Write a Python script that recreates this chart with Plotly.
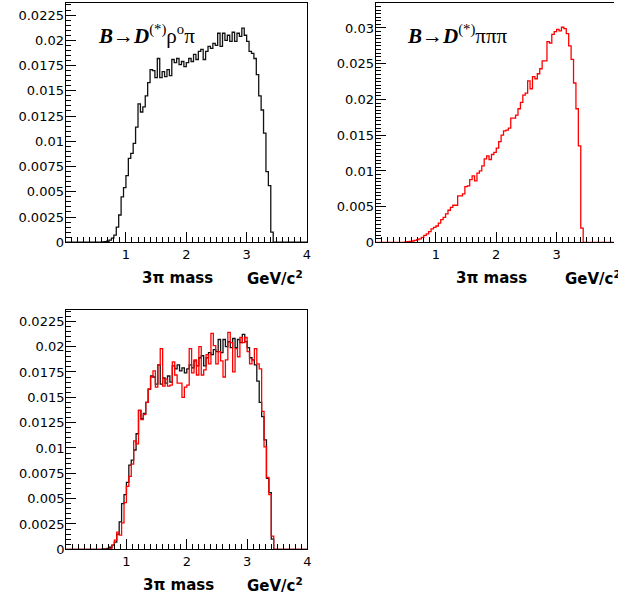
import numpy as np
import plotly.graph_objects as go

# ---------------- data ----------------
n_bins = 100
x_min, x_max = 0.0, 4.0

rho_pi = [0, 0, 0, 0, 0, 0, 0, 0, 0, 0,
          0, 0, 0, 0, 0, 0.00003, 0.00005, 0.0001, 0.0002, 0.0004,
          0.0007, 0.0015, 0.0027, 0.0045, 0.0054, 0.0066, 0.0083, 0.0088, 0.0098, 0.0114,
          0.0137, 0.0129, 0.0134, 0.0145, 0.0158, 0.0171, 0.0170, 0.0163, 0.0182, 0.0163,
          0.0169, 0.0164, 0.0171, 0.0165, 0.0181, 0.0178, 0.0182, 0.0176, 0.0179, 0.0174,
          0.0178, 0.0182, 0.0179, 0.0186, 0.0181, 0.0189, 0.0191, 0.0181, 0.0189, 0.0194,
          0.0192, 0.0197, 0.0195, 0.0207, 0.0194, 0.0207, 0.0200, 0.0205, 0.0199, 0.0208,
          0.0199, 0.0207, 0.0204, 0.0212, 0.0205, 0.0199, 0.0189, 0.0187, 0.0182, 0.0166,
          0.0145, 0.0131, 0.0108, 0.0070, 0.0056, 0.0010, 0, 0, 0, 0,
          0, 0, 0, 0, 0, 0, 0, 0, 0, 0]

three_pi = [0, 0, 0, 0, 0, 0, 0, 0, 0, 0,
            0, 0, 0.00005, 0.0001, 0.00015, 0.0002, 0.0003, 0.0004, 0.0005, 0.0007,
            0.0010, 0.0012, 0.0015, 0.0019, 0.0021, 0.0023, 0.0027, 0.0032, 0.0035, 0.0040,
            0.0045, 0.0049, 0.0052, 0.0052, 0.0065, 0.0065, 0.0068, 0.0078, 0.0079, 0.0088,
            0.0093, 0.0086, 0.0097, 0.0100, 0.0107, 0.0117, 0.0121, 0.0116, 0.0123, 0.0126,
            0.0132, 0.0141, 0.0150, 0.0156, 0.0157, 0.0160, 0.0174, 0.0174, 0.0178, 0.0187,
            0.0196, 0.0206, 0.0209, 0.0226, 0.0215, 0.0232, 0.0229, 0.0236, 0.0243, 0.0254,
            0.0254, 0.0281, 0.0279, 0.0291, 0.0295, 0.0298, 0.0296, 0.0301, 0.0299, 0.0292,
            0.0275, 0.0256, 0.0223, 0.0187, 0.0135, 0.0020, 0, 0, 0, 0,
            0, 0, 0, 0, 0, 0, 0, 0, 0, 0]

rho_pi_alt = [0, 0, 0, 0, 0, 0, 0, 0, 0, 0,
              0, 0, 0, 0, 0, 0, 0, 0, 0.0001, 0.0004,
              0.0009, 0.0017, 0.0014, 0.0026, 0.0046, 0.0062, 0.0072, 0.0084, 0.0107, 0.0104,
              0.0137, 0.0128, 0.0133, 0.0145, 0.0158, 0.0170, 0.0176, 0.0160, 0.0182, 0.0198,
              0.0161, 0.0168, 0.0161, 0.0162, 0.0185, 0.0172, 0.0164, 0.0164, 0.0150, 0.0160,
              0.0162, 0.0198, 0.0174, 0.0187, 0.0172, 0.0200, 0.0172, 0.0177, 0.0192, 0.0183,
              0.0213, 0.0201, 0.0183, 0.0195, 0.0186, 0.0170, 0.0187, 0.0214, 0.0204, 0.0175,
              0.0198, 0.0190, 0.0209, 0.0204, 0.0209, 0.0195, 0.0183, 0.0187, 0.0198, 0.0183,
              0.0178, 0.0136, 0.0101, 0.0071, 0.0054, 0.0013, 0, 0, 0, 0,
              0, 0, 0, 0, 0, 0, 0, 0, 0, 0]

x_tick_vals = [1, 2, 3, 4]
x_tick_text = ["1", "2", "3", "4"]
y1_tick_vals = [0, 0.0025, 0.005, 0.0075, 0.01, 0.0125, 0.015, 0.0175, 0.02, 0.0225]
y1_tick_text = ["0", "0.0025", "0.005", "0.0075", "0.01", "0.0125", "0.015", "0.0175", "0.02", "0.0225"]
y2_tick_vals = [0, 0.005, 0.01, 0.015, 0.02, 0.025, 0.03]
y2_tick_text = ["0", "0.005", "0.01", "0.015", "0.02", "0.025", "0.03"]

title_rho = "<b><i>B</i></b>→<b><i>D</i></b><sup>(*)</sup>ρ<sup>o</sup>π"
title_3pi = "<b><i>B</i></b>→<b><i>D</i></b><sup>(*)</sup>πππ"
xlabel = "3π mass"
xunit = "GeV/c<sup>2</sup>"

# ---------------- figure ----------------
W, H = 618, 602
edges = np.linspace(x_min, x_max, n_bins + 1)


def step(vals, color, xa, ya, width=1.3):
    y = list(vals) + [vals[-1]]
    return go.Scatter(x=edges, y=y, mode="lines", line=dict(color=color, width=width, shape="hv"),
                      xaxis=xa, yaxis=ya, hoverinfo="skip", showlegend=False)


fig = go.Figure()
fig.add_trace(step(rho_pi, "#111111", "x", "y"))
fig.add_trace(step(three_pi, "#ff0000", "x2", "y2"))
fig.add_trace(step(rho_pi, "#111111", "x3", "y3"))
fig.add_trace(step(rho_pi_alt, "#ff0000", "x3", "y3"))

tick_font = dict(family="DejaVu Sans", size=13, color="#000")


def px_x(p):
    return p / W


def px_y(p):
    return 1 - p / H


def xaxis(domain, rng, anchor):
    return dict(domain=domain, range=rng, anchor=anchor, showgrid=False, zeroline=False,
                showline=True, linecolor="#000", linewidth=1, mirror=True,
                ticks="inside", ticklen=10, tickcolor="#000", tickwidth=1,
                tickvals=x_tick_vals, ticktext=x_tick_text, tickfont=tick_font,
                minor=dict(ticks="inside", ticklen=5, dtick=0.1, tick0=0, tickcolor="#000"),
                fixedrange=True)


def yaxis(domain, rng, anchor, vals, text, mirror=True):
    return dict(domain=domain, range=rng, anchor=anchor, showgrid=False, zeroline=False,
                showline=True, linecolor="#000", linewidth=1, mirror=mirror,
                ticks="inside", ticklen=10, tickcolor="#000", tickwidth=1,
                tickvals=vals, ticktext=text, tickfont=tick_font, ticklabelstandoff=-2,
                minor=dict(ticks="inside", ticklen=5, dtick=0.0005, tick0=0, tickcolor="#000"),
                fixedrange=True)


p1 = dict(l=66, r=309, t=3, b=245.5)
p2 = dict(l=378, r=618, t=3, b=245.7)
p3 = dict(l=66.5, r=309.5, t=314.3, b=556.7)
unit = (p1["r"] - p1["l"]) / 4.0

fig.update_layout(
    width=W, height=H, margin=dict(l=0, r=0, t=0, b=0),
    paper_bgcolor="white", plot_bgcolor="white",
    xaxis=xaxis([px_x(p1["l"]), px_x(p1["r"])], [0, 4], "y"),
    yaxis=yaxis([px_y(p1["b"]), px_y(p1["t"])], [0, 0.0237], "x", y1_tick_vals, y1_tick_text),
    xaxis2=xaxis([px_x(p2["l"]), 1.0], [0, (p2["r"] - p2["l"]) / unit], "y2"),
    yaxis2=yaxis([px_y(p2["b"]), px_y(p2["t"])], [0, 0.0335], "x2", y2_tick_vals, y2_tick_text, mirror=False),
    xaxis3=xaxis([px_x(p3["l"]), px_x(p3["r"])], [0, 4], "y3"),
    yaxis3=yaxis([px_y(p3["b"]), px_y(p3["t"])], [0, 0.0236], "x3", y1_tick_vals, y1_tick_text),
)

label_font = dict(family="DejaVu Sans", size=15, color="#000")
title_font = dict(family="Liberation Serif", size=21, color="#000")

ann = []
for (cx_mass, x_unit_right, y_c, anchor_unit) in [(179, 307, 282, "right"), (495, 567, 282, "left"), (180, 307, 593, "right")]:
    ann.append(dict(text="<b>" + xlabel + "</b>", x=px_x(cx_mass), y=px_y(y_c), xref="paper", yref="paper",
                    xanchor="center", yanchor="middle", showarrow=False, font=label_font))
    ann.append(dict(text="<b>" + xunit + "</b>", x=px_x(x_unit_right), y=px_y(y_c), xref="paper", yref="paper",
                    xanchor=anchor_unit, yanchor="middle", showarrow=False, font=label_font))
ann.append(dict(text=title_rho, x=px_x(97), y=px_y(35), xref="paper", yref="paper",
                xanchor="left", yanchor="middle", showarrow=False, font=title_font))
ann.append(dict(text=title_3pi, x=px_x(408), y=px_y(35), xref="paper", yref="paper",
                xanchor="left", yanchor="middle", showarrow=False, font=title_font))
fig.update_layout(annotations=ann)

fig.write_html("out.html")
